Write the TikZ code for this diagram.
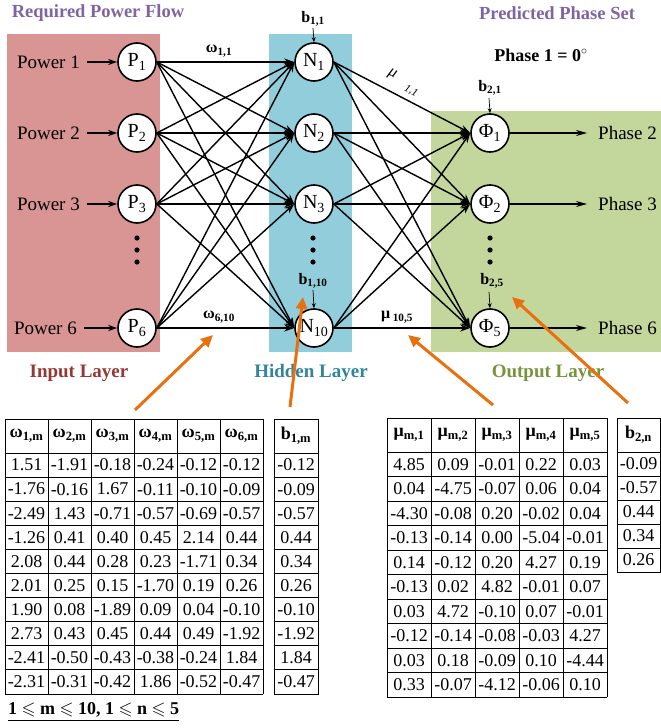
\documentclass[tikz,border=0pt]{standalone}
\usepackage{amsmath,amssymb}
\usepackage{fontspec}
\setmainfont{Liberation Serif}
\usetikzlibrary{arrows.meta}
\definecolor{inpink}{HTML}{D99594}
\definecolor{hidblue}{HTML}{92CDDC}
\definecolor{outgreen}{HTML}{C3D69B}
\definecolor{titlepurple}{HTML}{8064A2}
\definecolor{inred}{HTML}{953735}
\definecolor{hidteal}{HTML}{31849B}
\definecolor{outolive}{HTML}{77933C}
\definecolor{arrorange}{HTML}{E9700F}
\newcommand\fsz[1]{\fontsize{#1}{#1}\selectfont}
\newcommand\sbs[1]{\textsubscript{#1}}
\begin{document}
\begin{tikzpicture}[x=1pt,y=-1pt,
  neuron/.style={circle,draw,line width=1.6pt,fill=white,minimum size=38pt,inner sep=0pt,font={\fsz{20}}},
  conn/.style={line width=1.4pt,-{Stealth[length=10pt,width=7pt]}},
  inarrow/.style={line width=1.4pt,-{Stealth[length=9pt,width=6pt]}},
  outarrow/.style={line width=1.4pt,-{Stealth[length=11pt,width=6pt]}},
  biasarrow/.style={line width=0.7pt,-{Stealth[length=5pt,width=4pt]}},
  lbl/.style={inner sep=0pt,font={\fsz{19}}},
  biaslbl/.style={inner sep=0pt,font={\bfseries\fsz{16}}},
  wlbl/.style={inner sep=0pt,font={\bfseries\fsz{16}}},
  titlelbl/.style={inner sep=0pt,font={\bfseries\fsz{18.5}},text=titlepurple},
  layerlbl/.style={inner sep=0pt,font={\bfseries\fsz{19}}},
  orangearrow/.style={arrorange,line width=3pt,-{Triangle[length=12pt,width=11pt]}},
  tline/.style={line width=0.9pt},
  cellt/.style={inner sep=0pt,font={\fsz{18}}},
  hdr/.style={inner sep=0pt,font={\bfseries\fsz{18}}}
]
\useasboundingbox (0,0) rectangle (661,728);
% layer backgrounds
\fill[inpink] (7,34) rectangle (160,352);
\fill[hidblue] (269,34) rectangle (352,352);
\fill[outgreen] (431,111) rectangle (661,352);
% titles
\node[titlelbl] (tin) at (98,13) {Required Power Flow};
\node[titlelbl] (tout) at (557,13) {Predicted Phase Set};
\node[inner sep=0pt,font={\bfseries\fsz{18}}] (ph1) at (541,55) {Phase 1 = 0$^{\circ}$};
% input nodes
\node[neuron] (P1) at (137,62) {P\sbs{1}};
\node[neuron] (P2) at (137,133) {P\sbs{2}};
\node[neuron] (P3) at (137,204) {P\sbs{3}};
\node[neuron] (P6) at (137,328) {P\sbs{6}};
% hidden nodes
\node[neuron] (N1) at (314,62) {N\sbs{1}};
\node[neuron] (N2) at (314,133) {N\sbs{2}};
\node[neuron] (N3) at (314,204) {N\sbs{3}};
\node[neuron] (N10) at (314,328) {N\sbs{10}};
% output nodes
\node[neuron] (F1) at (490,133) {Φ\sbs{1}};
\node[neuron] (F2) at (490,204) {Φ\sbs{2}};
\node[neuron] (F5) at (490,328) {Φ\sbs{5}};
% dots
\foreach \x in {137,313,490}
  \foreach \y in {238,250,262}
    \fill (\x,\y) circle (2.6);
% connections
\foreach \p in {P1,P2,P3,P6}
  \foreach \n in {N1,N2,N3,N10}
    \draw[conn] (\p.east) -- (\n.west);
\foreach \n in {N1,N2,N3,N10}
  \foreach \f in {F1,F2,F5}
    \draw[conn] (\n.east) -- (\f.west);
% input labels
\node[lbl,anchor=east] (pw1) at (80,62) {Power 1};
\node[lbl,anchor=east] (pw2) at (80,133) {Power 2};
\node[lbl,anchor=east] (pw3) at (80,204) {Power 3};
\node[lbl,anchor=east] (pw6) at (77,328) {Power 6};
\foreach \a/\b in {pw1/P1,pw2/P2,pw3/P3,pw6/P6}
  \draw[inarrow,shorten <=7pt] (\a.east) -- (\b.west);
% output labels
\node[lbl,anchor=west] (o2) at (598,133) {Phase 2};
\node[lbl,anchor=west] (o3) at (598,204) {Phase 3};
\node[lbl,anchor=west] (o6) at (598,328) {Phase 6};
\foreach \a/\b in {F1/o2,F2/o3,F5/o6}
  \draw[outarrow,shorten >=11pt] (\a.east) -- (\b.west);
% biases
\node[biaslbl] (b11) at (313,19) {b\sbs{1,1}};
\node[biaslbl] (b110) at (313,281) {b\sbs{1,10}};
\node[biaslbl] (b21) at (490,88) {b\sbs{2,1}};
\node[biaslbl] (b25) at (492,281) {b\sbs{2,5}};
\draw[biasarrow] (b11.south) ++(0,1) -- (N1.north);
\draw[biasarrow] (b110.south) ++(0,1) -- (N10.north);
\draw[biasarrow] (b21.south) ++(-1,2) -- (F1.north);
\draw[biasarrow] (b25.south) ++(-3,3) -- (F5.north);
% weight labels
\node[wlbl] (w11) at (219,51) {ω\sbs{1,1}};
\node[wlbl] (w610) at (219,317) {ω\sbs{6,10}};
\node[inner sep=0pt,font={\itshape\fsz{16}},rotate=-27] (m11) at (392,75) {μ};
\node[inner sep=0pt,font={\itshape\fsz{11}},rotate=-27] (m11s) at (411,91) {1,1};
\node[wlbl] (m105) at (397,317) {μ\,\sbs{10,5}};
% layer labels
\node[layerlbl,text=inred] (lin) at (79,373) {Input Layer};
\node[layerlbl,text=hidteal] (lhid) at (311,373) {Hidden Layer};
\node[layerlbl,text=outolive] (lout) at (548,373) {Output Layer};
% omega table
\foreach \i in {0,...,6} \draw[tline] ({5+43*\i},419) -- ({5+43*\i},694);
\draw[tline] (5,419) -- (263,419);
\foreach \j in {0,...,10} \draw[tline] (5,{453+24.1*\j}) -- (263,{453+24.1*\j});
\foreach \c in {1,...,6}
  \node[hdr] (wh\c) at ({5+43*(\c-0.5)},436) {ω\sbs{\c,m}};
\foreach \row [count=\r] in {
  {1.51,-1.91,-0.18,-0.24,-0.12,-0.12},
  {-1.76,-0.16,1.67,-0.11,-0.10,-0.09},
  {-2.49,1.43,-0.71,-0.57,-0.69,-0.57},
  {-1.26,0.41,0.40,0.45,2.14,0.44},
  {2.08,0.44,0.28,0.23,-1.71,0.34},
  {2.01,0.25,0.15,-1.70,0.19,0.26},
  {1.90,0.08,-1.89,0.09,0.04,-0.10},
  {2.73,0.43,0.45,0.44,0.49,-1.92},
  {-2.41,-0.50,-0.43,-0.38,-0.24,1.84},
  {-2.31,-0.31,-0.42,1.86,-0.52,-0.47}} {
  \foreach \v [count=\c] in \row
    \node[cellt] (w\r-\c) at ({5+43*(\c-0.5)},{453+24.1*(\r-0.5)}) {\v};
}
% b1 table
\draw[tline] (274,419) rectangle (318,694);
\foreach \j in {0,...,10} \draw[tline] (274,{453+24.1*\j}) -- (318,{453+24.1*\j});
\node[hdr] (b1h) at (296,436) {b\sbs{1,m}};
\foreach \v [count=\r] in {-0.12,-0.09,-0.57,0.44,0.34,0.26,-0.10,-1.92,1.84,-0.47}
  \node[cellt] (b1-\r) at (296,{453+24.1*(\r-0.5)}) {\v};
% mu table
\foreach \i in {0,...,5} \draw[tline] ({387+44*\i},418) -- ({387+44*\i},697);
\draw[tline] (387,418) -- (607,418);
\foreach \j in {0,...,10} \draw[tline] (387,{452+24.5*\j}) -- (607,{452+24.5*\j});
\foreach \c in {1,...,5}
  \node[hdr] (mh\c) at ({387+44*(\c-0.5)},435) {μ\sbs{m,\c}};
\foreach \row [count=\r] in {
  {4.85,0.09,-0.01,0.22,0.03},
  {0.04,-4.75,-0.07,0.06,0.04},
  {-4.30,-0.08,0.20,-0.02,0.04},
  {-0.13,-0.14,0.00,-5.04,-0.01},
  {0.14,-0.12,0.20,4.27,0.19},
  {-0.13,0.02,4.82,-0.01,0.07},
  {0.03,4.72,-0.10,0.07,-0.01},
  {-0.12,-0.14,-0.08,-0.03,4.27},
  {0.03,0.18,-0.09,0.10,-4.44},
  {0.33,-0.07,-4.12,-0.06,0.10}} {
  \foreach \v [count=\c] in \row
    \node[cellt] (m\r-\c) at ({387+44*(\c-0.5)},{452+24.5*(\r-0.5)}) {\v};
}
% b2 table
\draw[tline] (617,418) rectangle (660,572);
\foreach \j in {0,...,5} \draw[tline] (617,{452+24*\j}) -- (660,{452+24*\j});
\node[hdr] (b2h) at (638.5,435) {b\sbs{2,n}};
\foreach \v [count=\r] in {-0.09,-0.57,0.44,0.34,0.26}
  \node[cellt] (b2-\r) at (638.5,{452+24*(\r-0.5)}) {\v};
% footer
\node[inner sep=0pt,anchor=west,font={\bfseries\fsz{18}}] (foot) at (8,712)
  {\underline{1 $\leqslant$ m $\leqslant$ 10, 1 $\leqslant$ n $\leqslant$ 5}};
% orange pointers
\coordinate (oa1) at (135,410); \coordinate (oa1t) at (213,335);
\coordinate (oa2) at (290,407); \coordinate (oa2t) at (303,297);
\coordinate (oa3) at (493,405); \coordinate (oa3t) at (408,335);
\coordinate (oa4) at (628,403); \coordinate (oa4t) at (512,297);
\draw[orangearrow] (oa1) -- (oa1t);
\draw[orangearrow] (oa2) -- (oa2t);
\draw[orangearrow] (oa3) -- (oa3t);
\draw[orangearrow] (oa4) -- (oa4t);
\end{tikzpicture}
\end{document}
